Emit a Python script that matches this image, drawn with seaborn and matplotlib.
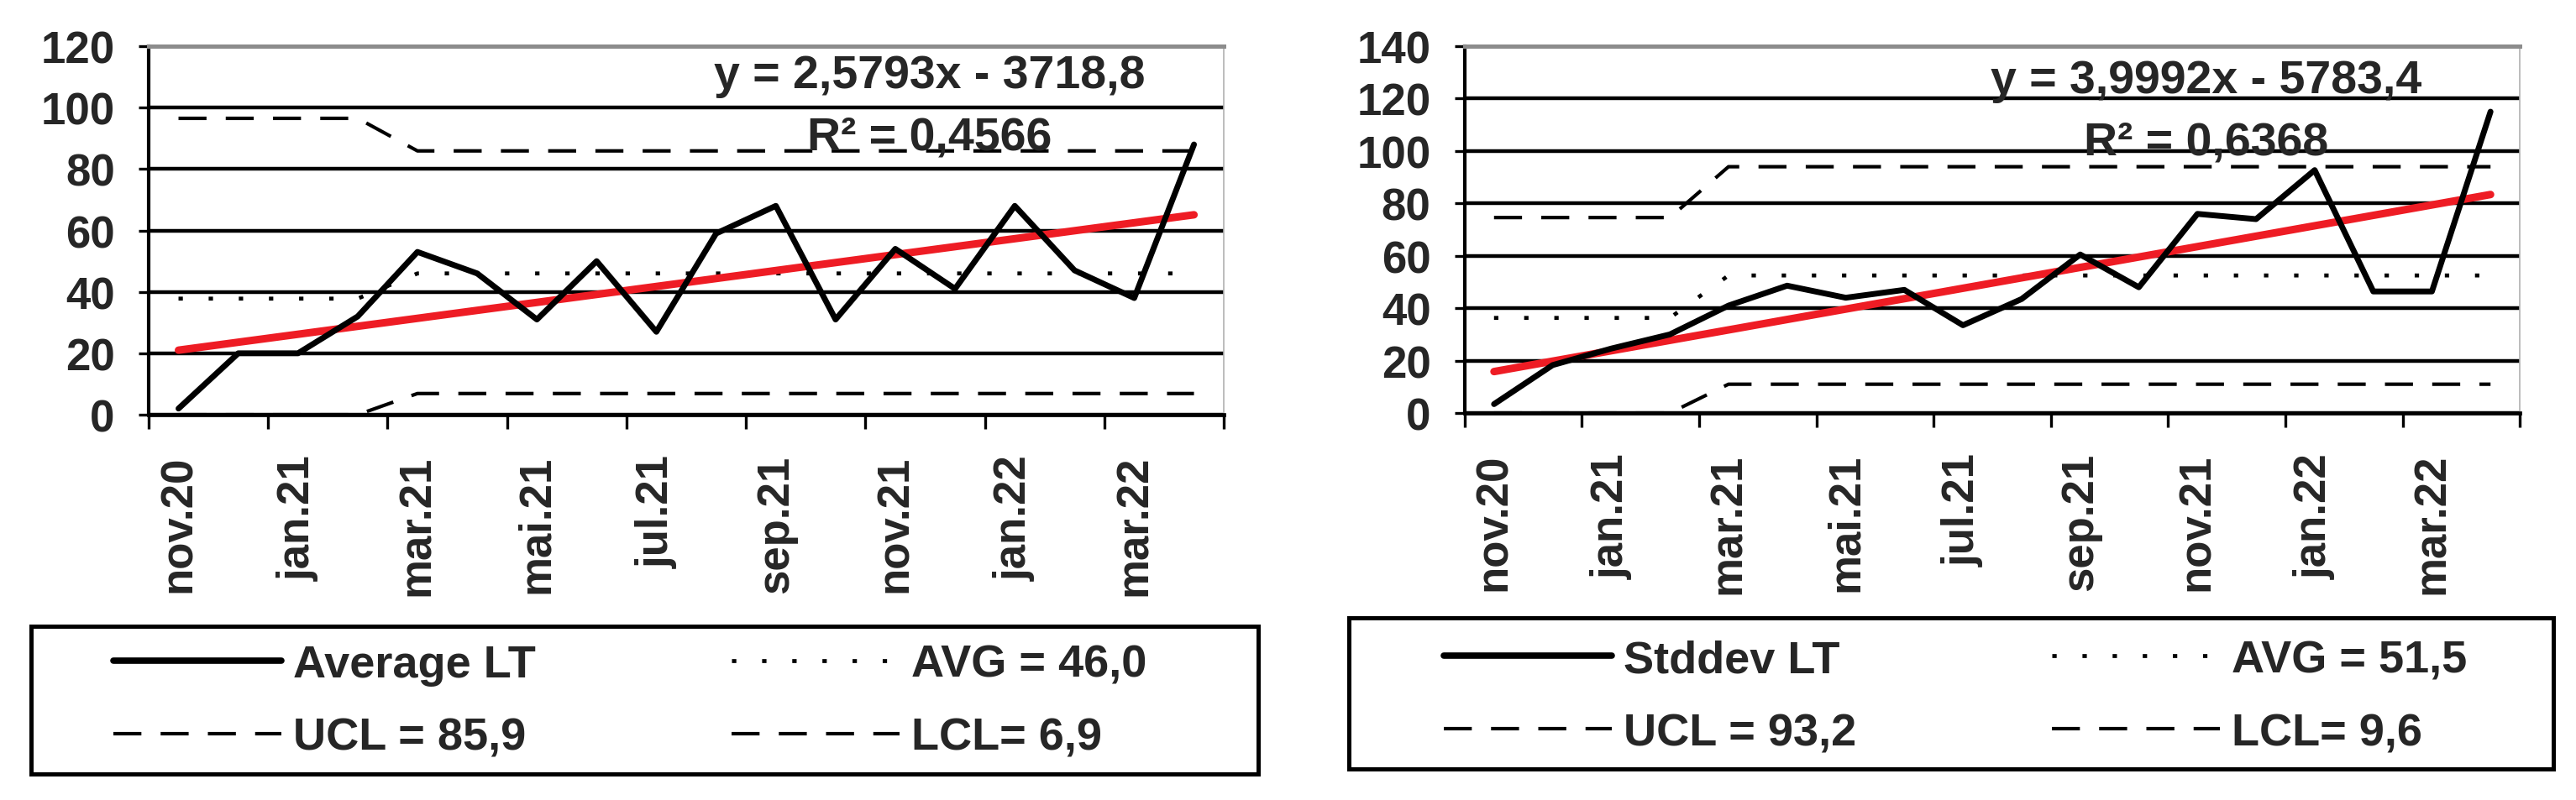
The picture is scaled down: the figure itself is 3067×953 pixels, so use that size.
import matplotlib
matplotlib.use('Agg')
import matplotlib.pyplot as plt
from matplotlib.lines import Line2D
from matplotlib.patches import Rectangle
import seaborn as sns
import pandas as pd

# månedlige kategorier (nov.20 - apr.22)
months = ['nov.20', 'des.20', 'jan.21', 'feb.21', 'mar.21', 'apr.21', 'mai.21', 'jun.21', 'jul.21',
          'aug.21', 'sep.21', 'okt.21', 'nov.21', 'des.21', 'jan.22', 'feb.22', 'mar.22', 'apr.22']

# venstre: Average LT
average_lt = [2, 20, 20, 32, 53, 46, 31, 50, 27, 59, 68, 31, 54, 41, 68, 47, 38, 88]
avg_left = [37.8, 37.8, 37.8, 37.8, 46.0, 46.0, 46.0, 46.0, 46.0, 46.0, 46.0, 46.0, 46.0, 46.0, 46.0, 46.0, 46.0, 46.0]
ucl_left = [96.5, 96.5, 96.5, 96.5, 85.9, 85.9, 85.9, 85.9, 85.9, 85.9, 85.9, 85.9, 85.9, 85.9, 85.9, 85.9, 85.9, 85.9]
lcl_left = [0, 0, 0, 0, 6.9, 6.9, 6.9, 6.9, 6.9, 6.9, 6.9, 6.9, 6.9, 6.9, 6.9, 6.9, 6.9, 6.9]

# høyre: Stddev LT
stddev_lt = [3.4, 18.3, 24.6, 30, 41, 48.6, 44, 47, 33.5, 43.5, 60.5, 48, 76, 74, 92.7, 46.4, 46.4, 115]
avg_right = [36.3, 36.3, 36.3, 36.3, 52.5, 52.5, 52.5, 52.5, 52.5, 52.5, 52.5, 52.5, 52.5, 52.5, 52.5, 52.5, 52.5, 52.5]
ucl_right = [74.6, 74.6, 74.6, 74.6, 94.0, 94.0, 94.0, 94.0, 94.0, 94.0, 94.0, 94.0, 94.0, 94.0, 94.0, 94.0, 94.0, 94.0]
lcl_right = [0, 0, 0, 0, 11, 11, 11, 11, 11, 11, 11, 11, 11, 11, 11, 11, 11, 11]

sns.set_style('white')
plt.rcParams['font.family'] = ['Liberation Sans', 'DejaVu Sans']
plt.rcParams['font.weight'] = 'bold'

DOT = (0, (1.1, 6.5))
DASH = (0, (8, 5.5))
LIM_LW = 3.0


def panel(ax, values, avg, ucl, lcl, ymax, eq, r2, tx, ty_eq, ty_r2):
    df = pd.DataFrame({'pos': range(len(months)), 'val': values,
                       'avg': avg, 'ucl': ucl, 'lcl': lcl})
    sns.lineplot(data=df, x='pos', y='ucl', ax=ax, color='black', lw=LIM_LW, linestyle=DASH, zorder=2)
    sns.lineplot(data=df, x='pos', y='lcl', ax=ax, color='black', lw=LIM_LW, linestyle=DASH, zorder=2.6)
    sns.lineplot(data=df, x='pos', y='avg', ax=ax, color='black', lw=3.4, linestyle=DOT, zorder=2)
    sns.regplot(data=df, x='pos', y='val', ax=ax, scatter=False, ci=None, truncate=True,
                color='#ee1c24', line_kws={'lw': 6.5, 'zorder': 3})
    sns.lineplot(data=df, x='pos', y='val', ax=ax, color='black', lw=5, zorder=4)

    ax.set_xlim(-0.5, len(months) - 0.5)
    ax.set_ylim(0, ymax)
    ax.set_yticks(range(0, ymax + 1, 20))
    ax.set_xticks([k - 0.5 for k in range(0, len(months) + 1, 2)])
    ax.set_xticklabels([])
    ax.set_xticks(range(0, len(months), 2), minor=True)
    ax.set_xticklabels(months[::2], minor=True, rotation=90, fontsize=38, fontweight='bold')
    ax.tick_params(axis='x', which='major', bottom=True, length=12, width=2.4, direction='out', color='black')
    ax.tick_params(axis='x', which='minor', bottom=True, length=0, pad=34)
    ax.tick_params(axis='y', left=True, length=9, width=2.4, pad=20, labelsize=38, color='black')
    for lab in ax.get_yticklabels():
        lab.set_fontweight('bold')
    ax.set_xlabel('')
    ax.set_ylabel('')

    ax.set_axisbelow(True)
    ax.grid(axis='y', color='black', lw=3.2)
    ax.spines['left'].set(color='black', lw=3)
    ax.spines['bottom'].set(color='black', lw=3.4)
    ax.spines['top'].set(color='#8c8c8c', lw=3.6)
    ax.spines['right'].set(color='#b0b0b0', lw=1.2)

    ax.text(tx, ty_eq, eq, transform=ax.transAxes, ha='center', va='baseline',
            fontsize=40, fontweight='bold', zorder=6)
    ax.text(tx, ty_r2, r2, transform=ax.transAxes, ha='center', va='baseline',
            fontsize=40, fontweight='bold', zorder=6)


def legend_box(fig, name, avg_lbl, ucl_lbl, lcl_lbl, anchor, rect):
    h_data = Line2D([], [], color='black', lw=5.5)
    h_avg = Line2D([], [], color='black', lw=3.4, ls=DOT)
    h_ucl = Line2D([], [], color='black', lw=LIM_LW, ls=DASH)
    h_lcl = Line2D([], [], color='black', lw=LIM_LW, ls=DASH)
    fig.legend(handles=[h_data, h_ucl, h_avg, h_lcl],
               labels=[name, ucl_lbl, avg_lbl, lcl_lbl],
               ncol=2, loc='upper left', bbox_to_anchor=anchor, bbox_transform=fig.transFigure,
               frameon=False, prop={'weight': 'bold', 'size': 39},
               handlelength=3.7, handletextpad=0.25, columnspacing=4.3,
               labelspacing=0.68, borderpad=0, borderaxespad=0)
    fig.add_artist(Rectangle(rect[:2], rect[2], rect[3], transform=fig.transFigure,
                             fill=False, ec='black', lw=3.6))


fig = plt.figure(figsize=(30.67, 9.54), dpi=100)
ax1 = fig.add_axes([0.0577, 0.4811, 0.4174, 0.4602])
ax2 = fig.add_axes([0.5686, 0.4832, 0.4096, 0.4581])

panel(ax1, average_lt, avg_left, ucl_left, lcl_left, 120,
      'y = 2,5793x - 3718,8', 'R² = 0,4566', 0.726, 0.888, 0.720)
panel(ax2, stddev_lt, avg_right, ucl_right, lcl_right, 140,
      'y = 3,9992x - 5783,4', 'R² = 0,6368', 0.703, 0.874, 0.707)

legend_box(fig, 'Average LT', 'AVG = 46,0', 'UCL = 85,9', 'LCL= 6,9',
           (0.0440, 0.1950), (0.0121, 0.0325, 0.4764, 0.1845))
legend_box(fig, 'Stddev LT', 'AVG = 51,5', 'UCL = 93,2', 'LCL= 9,6',
           (0.5605, 0.2010), (0.5236, 0.0388, 0.4676, 0.1887))

fig.savefig('out.png', dpi=100)
